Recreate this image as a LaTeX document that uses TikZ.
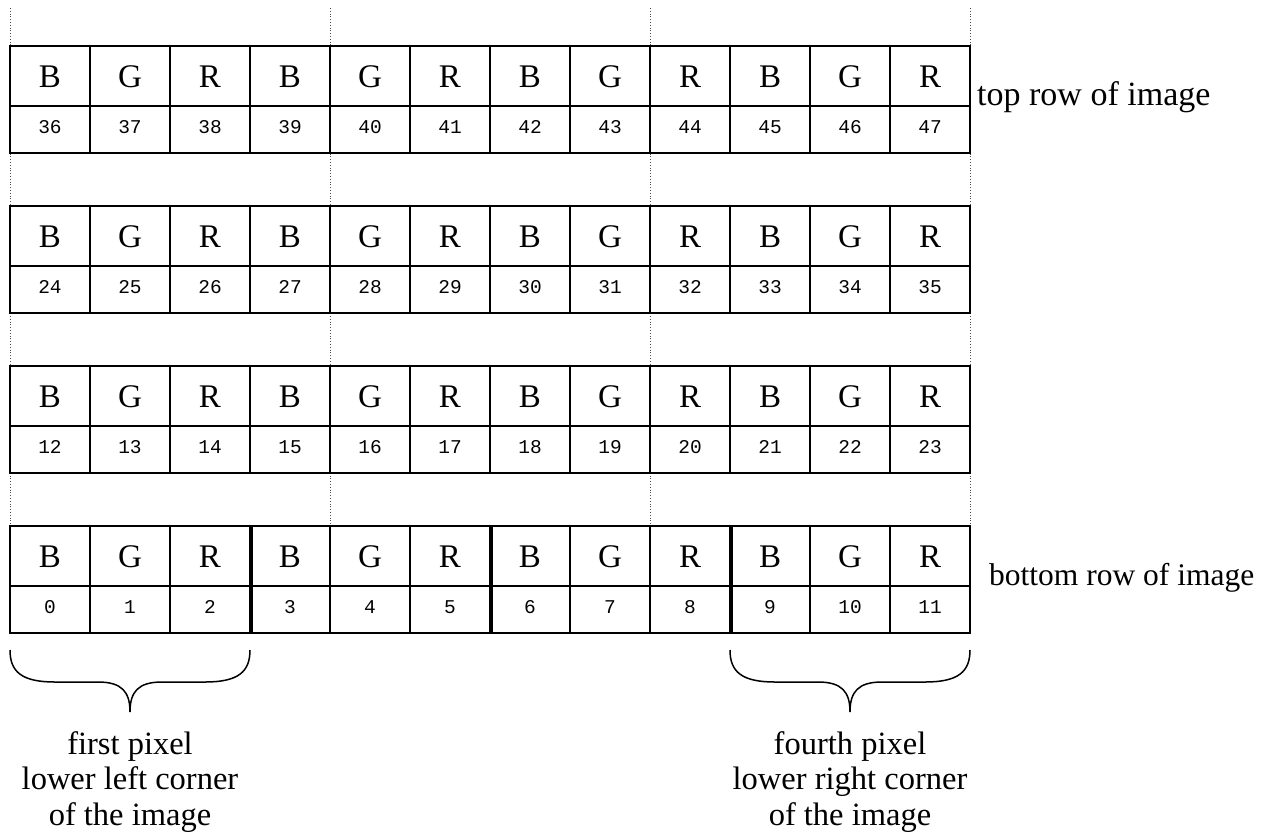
\documentclass[tikz,border=0pt]{standalone}
\usepackage{fontspec}
\setmainfont{Liberation Serif}
\newfontfamily\monof{Liberation Mono}
\begin{document}
\begin{tikzpicture}[x=1pt,y=-1pt,
  lettercell/.style={draw, line width=2pt, minimum width=80pt, minimum height=60pt, inner sep=0pt, text height=22pt, text depth=0pt, font=\fontsize{33}{33}\selectfont},
  numcell/.style={draw, line width=2pt, minimum width=80pt, minimum height=47pt, inner sep=0pt, text height=12pt, text depth=4pt, font=\monof\fontsize{19.5}{20}\selectfont},
  guide/.style={dotted, line width=0.8pt, black!70},
  sepline/.style={line width=3.4pt},
  bracepath/.style={line width=1.5pt},
  lbl/.style={inner sep=0pt, font=\fontsize{32.5}{35.5}\selectfont}]
\useasboundingbox (0,0) rectangle (1270,831);
\foreach \x in {10,330,650,970} \draw[guide] (\x,8) -- (\x,526);
\foreach \r in {0,...,3} {
  \foreach \i in {0,...,11} {
    \pgfmathtruncatemacro\n{12*\r+\i}
    \pgfmathtruncatemacro\k{mod(\i,3)}
    \node[lettercell] (L\n) at ({50+80*\i},{556-160*\r}) {\ifcase\k B\or G\or R\fi};
    \node[numcell] (N\n) at ({50+80*\i},{609.5-160*\r}) {\n};
  }
}
\foreach \j in {2,5,8} \draw[sepline] (L\j.north east) -- (N\j.south east);
% braces
\draw[bracepath] (10,650) .. controls (10,672) and (22,682) .. (55,682) -- (98,682)
  .. controls (122,682) and (130,692) .. (130,712)
  .. controls (130,692) and (138,682) .. (162,682) -- (205,682)
  .. controls (238,682) and (250,672) .. (250,650);
\draw[bracepath] (730,650) .. controls (730,672) and (742,682) .. (775,682) -- (818,682)
  .. controls (842,682) and (850,692) .. (850,712)
  .. controls (850,692) and (858,682) .. (882,682) -- (925,682)
  .. controls (958,682) and (970,672) .. (970,650);
\node[lbl, anchor=west, font=\fontsize{34}{36}\selectfont] (toplbl) at (977,97) {top row of image};
\node[lbl, anchor=west, font=\fontsize{31.5}{36}\selectfont] (botlbl) at (989,578) {bottom row of image};
\node[lbl, anchor=north, align=center] (firstlbl) at (130,731) {first pixel\\lower left corner\\of the image};
\node[lbl, anchor=north, align=center] (fourthlbl) at (850,731) {fourth pixel\\lower right corner\\of the image};
\end{tikzpicture}
\end{document}
